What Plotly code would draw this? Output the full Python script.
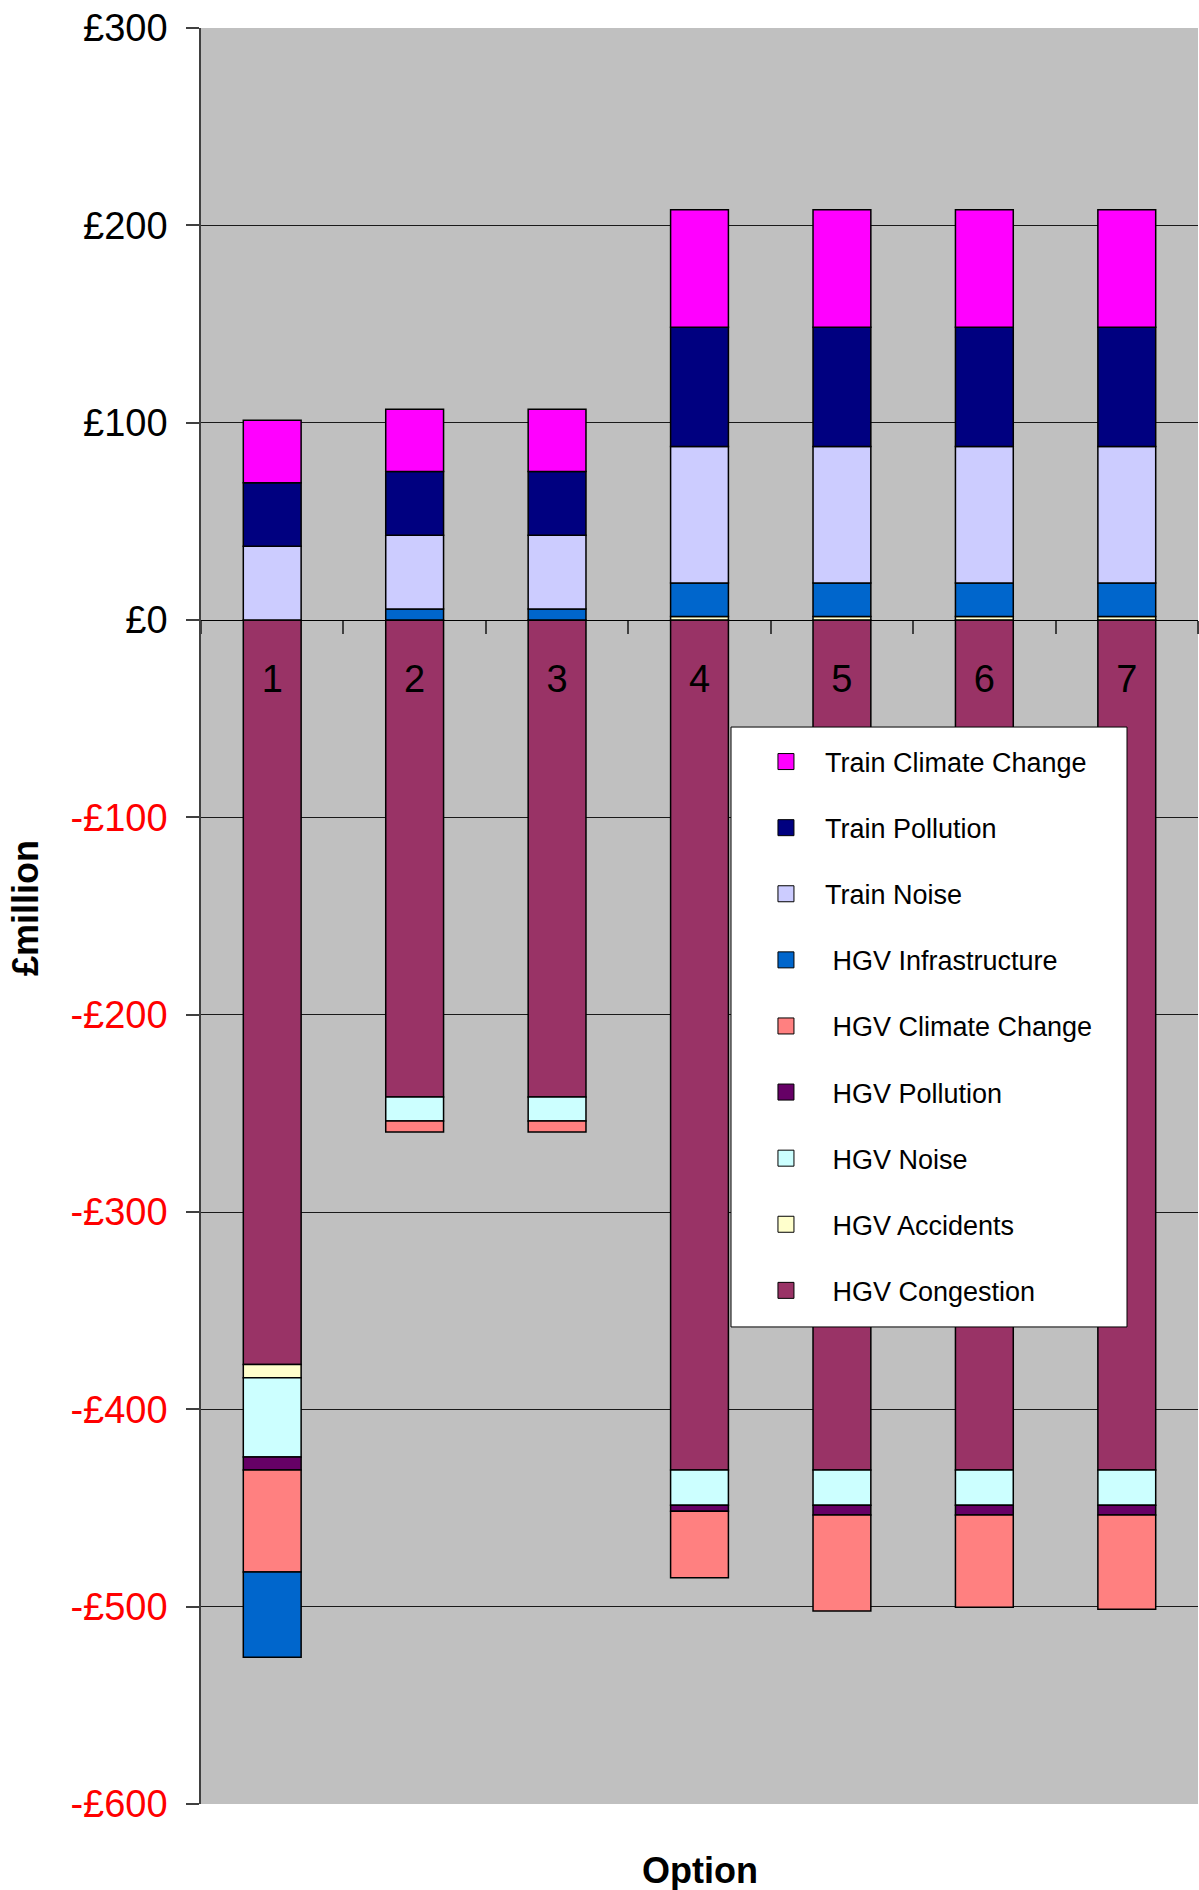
import plotly.graph_objects as go

# Options appraised
options = ["1", "2", "3", "4", "5", "6", "7"]

# Values in £million, listed in stacking order (first series sits next to zero)
hgv_congestion = [-377.3, -241.7, -241.7, -430.8, -430.8, -430.8, -430.8]
hgv_accidents = [-6.7, 0, 0, 1.8, 1.8, 1.8, 1.8]
hgv_noise = [-40.1, -12.2, -12.2, -17.8, -17.8, -17.8, -17.8]
hgv_pollution = [-6.7, 0, 0, -3.0, -4.9, -4.9, -4.9]
hgv_climate_change = [-51.6, -5.6, -5.6, -33.7, -48.7, -46.8, -47.8]
hgv_infrastructure = [-43.2, 5.6, 5.6, 17.0, 17.0, 17.0, 17.0]
train_noise = [37.4, 37.4, 37.4, 69.1, 69.1, 69.1, 69.1]
train_pollution = [32.2, 32.2, 32.2, 60.4, 60.4, 60.4, 60.4]
train_climate_change = [31.6, 31.6, 31.6, 59.6, 59.6, 59.6, 59.6]

series = [
    ("HGV Congestion", hgv_congestion, "#993366"),
    ("HGV Accidents", hgv_accidents, "#FFFFCC"),
    ("HGV Noise", hgv_noise, "#CCFFFF"),
    ("HGV Pollution", hgv_pollution, "#660066"),
    ("HGV Climate Change", hgv_climate_change, "#FF8080"),
    ("HGV Infrastructure", hgv_infrastructure, "#0066CC"),
    ("Train Noise", train_noise, "#CCCCFF"),
    ("Train Pollution", train_pollution, "#000080"),
    ("Train Climate Change", train_climate_change, "#FF00FF"),
]

y_tick_values = [-600, -500, -400, -300, -200, -100, 0, 100, 200, 300]
y_tick_labels = ["-£600", "-£500", "-£400", "-£300", "-£200", "-£100",
                 "£0", "£100", "£200", "£300"]
y_range = [-600, 300]

FONT = "Liberation Sans, Arial, sans-serif"
AXIS_GREY = "#404040"

fig = go.Figure()
for i, (name, values, colour) in enumerate(series):
    fig.add_trace(go.Bar(
        x=options,
        y=values,
        name=name,
        marker=dict(color=colour, line=dict(color="black", width=1.5)),
        legendgroup=name,
        showlegend=False,
        hovertemplate=name + ": £%{y}m<extra></extra>",
    ))

# legend keys: larger outlined squares than the default bar swatches
for i, (name, values, colour) in enumerate(series):
    label = ("\u00a0" + name) if name.startswith("HGV") else name
    fig.add_trace(go.Scatter(
        x=[None], y=[None],
        mode="markers",
        name=label,
        marker=dict(symbol="square", size=16, color=colour,
                    line=dict(color="black", width=1)),
        legendgroup=name,
        legendrank=len(series) - i,
        hoverinfo="skip",
    ))

# negative tick labels in red
tick_text = [
    f'<span style="color:#FF0000">{lab}</span>' if v < 0 else lab
    for v, lab in zip(y_tick_values, y_tick_labels)
]

zero_pos = (0 - y_range[0]) / (y_range[1] - y_range[0])

fig.update_layout(
    width=1199,
    height=1890,
    margin=dict(l=201, r=1, t=28, b=86),
    barmode="relative",
    bargap=0.594,
    plot_bgcolor="#C0C0C0",
    paper_bgcolor="white",
    font=dict(family=FONT, color="black"),
    showlegend=True,
    legend=dict(
        x=0.5476, y=0.6005, xanchor="left", yanchor="top",
        bgcolor="rgba(0,0,0,0)", borderwidth=0,
        font=dict(family=FONT, size=27, color="black"),
        itemwidth=68, tracegroupgap=28, traceorder="grouped",
    ),
    xaxis=dict(
        type="category",
        range=[-0.5, len(options) - 0.5],
        anchor="free",
        position=zero_pos,
        showgrid=False,
        showline=False,
        zeroline=False,
        ticks="outside",
        tickson="boundaries",
        ticklen=13,
        tickwidth=1.5,
        tickcolor=AXIS_GREY,
        tickfont=dict(family=FONT, size=38, color="black"),
        ticklabelstandoff=33,
    ),
    yaxis=dict(
        range=y_range,
        tickvals=y_tick_values,
        ticktext=tick_text,
        tickfont=dict(family=FONT, size=38, color="black"),
        ticks="outside",
        ticklen=13,
        tickwidth=1.5,
        tickcolor=AXIS_GREY,
        showline=True,
        linecolor=AXIS_GREY,
        linewidth=1.5,
        showgrid=True,
        gridcolor="#1a1a1a",
        gridwidth=1,
        zeroline=True,
        zerolinecolor="black",
        zerolinewidth=1,
        ticklabelstandoff=11,
    ),
)

# white, outlined panel behind the legend entries
fig.add_shape(
    type="rect", xref="paper", yref="paper",
    x0=0.5316, x1=0.9288, y0=0.2686, y1=0.6064,
    fillcolor="white", line=dict(color="black", width=1), layer="above",
)

fig.add_annotation(
    text="Option", xref="paper", yref="paper", x=0.5, y=0,
    xanchor="center", yanchor="middle", yshift=-66, showarrow=False,
    font=dict(family=FONT, size=36, color="black", weight="bold"),
)
fig.add_annotation(
    text="£million", xref="paper", yref="paper", x=0, y=0.5,
    xanchor="center", yanchor="middle", xshift=-176, yshift=8,
    textangle=-90, showarrow=False,
    font=dict(family=FONT, size=36, color="black", weight="bold"),
)

fig.write_html("out.html")
